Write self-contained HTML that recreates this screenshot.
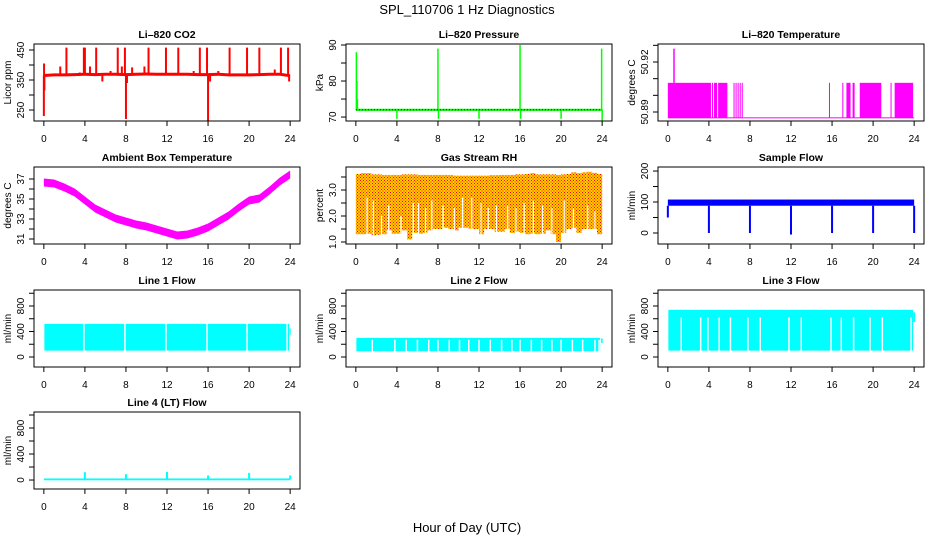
<!DOCTYPE html>
<html><head><meta charset="utf-8"><title>SPL_110706 1 Hz Diagnostics</title>
<style>
html,body{margin:0;padding:0;background:#fff;}
svg{display:block;font-family:"Liberation Sans",Arial,sans-serif;}
</style></head>
<body>
<svg id="chart" width="936" height="540" viewBox="0 0 936 540" xmlns="http://www.w3.org/2000/svg">
<defs>
<pattern id="rhpat" width="3" height="3" patternUnits="userSpaceOnUse">
<rect width="3" height="3" fill="#ffcc00"/><rect width="1" height="1" fill="#ff0000"/><rect x="1.5" y="1.5" width="1" height="1" fill="#ff0000"/>
</pattern>
</defs>
<text x="467" y="14" text-anchor="middle" font-size="13">SPL_110706  1 Hz Diagnostics</text>
<text x="467" y="532" text-anchor="middle" font-size="13">Hour of Day (UTC)</text>
</svg>
<script>
// ---- data ----
const xTicks = [0,4,8,12,16,20,24];
// CO2
const co2Hours = [0,1,2,3,4,5,6,7,8,9,10,11,12,13,14,15,16,17,18,19,20,21,22,23,24];
const co2Base = [366,368,368,369,370,369,370,370,369,370,371,370,370,370,370,369,369,370,368,368,368,369,370,370,365];
const co2SpikeHours = [0.0,0.05,0.02,1.6,2.2,3.5,3.9,4.0,4.5,5.1,5.7,6.5,7.2,7.6,7.9,8.0,8.1,8.6,9.8,10.2,11.9,13.1,14.6,15.2,15.9,16.0,16.2,17.0,18.1,19.8,21.0,22.5,23.1,23.8,23.9];
const co2SpikeVals = [230,315,405,395,458,375,458,458,395,458,345,380,458,395,458,220,340,392,395,458,458,458,380,458,458,213,345,380,458,458,458,385,458,458,345];
// Pressure
const presBase = 72.0;
const presSpikeHours = [0.05,0.1,0.15,4.0,8.0,8.05,12.0,16.0,16.05,20.0,23.95,24.0];
const presSpikeVals = [88,80,75,69.5,89,69.5,69.5,90,69.5,69.5,89,69];
// Li-820 temperature
const tempLow = 50.8865;
const tempHigh = 50.9075;
const tempBlockStart = [0.0,4.3,4.5,4.9,6.4,6.6,6.8,7.0,7.2,15.7,17.0,17.4,18.0,18.7,21.7,22.1];
const tempBlockEnd =   [4.2,4.4,4.8,5.8,6.5,6.7,6.9,7.1,7.3,15.8,17.1,17.8,18.2,20.8,21.8,23.9];
const tempSpikeHours = [0.6];
const tempSpikeVals = [50.928];
// Ambient box temperature
const ambHours = [0,1,2,3,4,5,6,7,8,9,10,11,12,13,14,15,16,17,18,19,20,21,22,23,24];
const ambTemp = [36.7,36.6,36.2,35.7,34.9,34.1,33.6,33.1,32.8,32.5,32.3,32.0,31.7,31.4,31.5,31.8,32.2,32.8,33.4,34.2,34.9,35.1,35.9,36.8,37.5];
// Gas stream RH (per half-hour bins)
const rhBinStart = [0,0.5,1,1.5,2,2.5,3,3.5,4,4.5,5,5.5,6,6.5,7,7.5,8,8.5,9,9.5,10,10.5,11,11.5,12,12.5,13,13.5,14,14.5,15,15.5,16,16.5,17,17.5,18,18.5,19,19.5,20,20.5,21,21.5,22,22.5,23,23.5];
const rhHigh = [3.62,3.65,3.65,3.6,3.6,3.58,3.58,3.58,3.58,3.6,3.6,3.6,3.58,3.58,3.58,3.58,3.58,3.58,3.58,3.55,3.55,3.55,3.55,3.55,3.55,3.55,3.57,3.57,3.58,3.58,3.58,3.6,3.6,3.62,3.65,3.6,3.6,3.6,3.6,3.58,3.6,3.62,3.68,3.65,3.68,3.7,3.66,3.62];
const rhLow = [1.3,1.3,1.32,1.25,1.28,1.3,1.45,1.32,1.32,1.45,1.1,1.35,1.32,1.35,1.45,1.5,1.5,1.55,1.5,1.45,1.55,1.55,1.5,1.5,1.3,1.5,1.5,1.4,1.4,1.5,1.35,1.4,1.35,1.3,1.32,1.3,1.32,1.45,1.3,1.0,1.35,1.5,1.55,1.35,1.5,1.5,1.5,1.3];
const rhGapHours = [1.1,1.7,2.5,3.2,4.4,5.6,6.1,6.8,7.4,8.5,9.6,10.4,11.3,12.2,12.9,13.7,14.8,15.6,16.4,17.3,18.2,19.1,20.3,21.2,22.6,23.3];
const rhGapTop = [2.7,2.6,2.0,2.4,2.0,2.5,2.5,2.3,2.6,2.4,2.3,2.7,2.7,2.5,2.3,2.4,2.4,2.3,2.5,2.6,2.4,2.3,2.6,2.3,2.4,2.2];
// Sample flow
const sfLow = 88;
const sfHigh = 108;
const sfDipHours = [0.0,4.0,8.0,12.0,16.0,20.0,24.0];
const sfDipVals = [50,0,0,-5,0,0,0];
// Line flows
const l1Low = 100, l1High = 520;
const l1Gaps = [3.9,7.9,11.9,15.9,19.8,23.7];
const l2Low = 90, l2High = 300;
const l2Gaps = [1.6,3.8,4.9,6.0,7.1,8.0,9.1,10.1,11.0,12.0,13.1,14.2,15.2,16.0,17.1,18.1,19.1,20.0,21.1,22.1,23.3,23.7];
const l3Low = 100, l3High = 740;
const l3Gaps = [1.3,3.2,3.9,5.0,6.1,7.8,9.0,11.8,13.0,15.9,16.9,18.1,19.7,20.9,23.7];
const l4Base = 10;
const l4SpikeHours = [4,8,12,16,20,24];
const l4SpikeVals = [120,90,125,70,110,70];

// ---- layout ----
const svg = document.getElementById('chart');
const NS = 'http://www.w3.org/2000/svg';
const colLeft = [34,346,658];
const rowTop = [44,167,290,412];
const W = 266, H = 77;
function mk(tag, attrs, parent){
  const e = document.createElementNS(NS, tag);
  for (const k in attrs) e.setAttribute(k, attrs[k]);
  (parent||svg).appendChild(e);
  return e;
}
function panel(name, col, row, title, ylab, dmin, dmax, yTicks, yLabels){
  const L = colLeft[col], T = rowTop[row];
  const g = mk('g', {});
  
  
  const xs = h => L + (h + 0.96) * W / 25.92;
  const ys = v => T + H - (v - dmin) / (dmax - dmin) * H;
  const plot = mk('g', {}, g);
  
  
  const box = mk('rect', {x:L, y:T, width:W, height:H, fill:'none', stroke:'#000', 'stroke-width':1}, g);
  
  
  const tt = mk('text', {x:L + W/2, y:T - 6, 'text-anchor':'middle', 'font-size':10.5, 'font-weight':'bold'}, g);
  tt.textContent = title;
  
  
  const yl = mk('text', {x:0, y:0, 'text-anchor':'middle', 'font-size':10, transform:'translate(' + (L - 23) + ',' + (T + H/2) + ') rotate(-90)'}, g);
  yl.textContent = ylab;
  
  
  const xa = mk('g', {}, g);
  
  
  mk('line', {x1:xs(0), x2:xs(24), y1:T+H, y2:T+H, stroke:'#000'}, xa);
  xTicks.forEach(t => {
    mk('line', {x1:xs(t), x2:xs(t), y1:T+H, y2:T+H+5, stroke:'#000'}, xa);
    const lt = mk('text', {x:xs(t), y:T+H+21, 'text-anchor':'middle', 'font-size':10}, xa);
    lt.textContent = t;
  });
  const ya = mk('g', {}, g);
  
  
  yTicks.forEach(t => {
    mk('line', {x1:L-5, x2:L, y1:ys(t), y2:ys(t), stroke:'#000'}, ya);
  });
  yLabels.forEach(lv => {
    const lt = mk('text', {x:0, y:0, 'text-anchor':'middle', 'font-size':10, transform:'translate(' + (L - 10) + ',' + ys(lv[0]) + ') rotate(-90)'}, ya);
    lt.textContent = lv[1];
  });
  return {xs, ys, plot};
}
function vline(p, h, v1, v2, color, w){
  return mk('line', {x1:p.xs(h), x2:p.xs(h), y1:p.ys(v1), y2:p.ys(v2), stroke:color, 'stroke-width':w||1.5}, p.plot);
}
function rect(p, h1, h2, v1, v2, fill){
  const x1 = p.xs(h1), x2 = p.xs(h2), y1 = p.ys(v2), y2 = p.ys(v1);
  return mk('rect', {x:x1, y:y1, width:Math.max(1, x2-x1), height:Math.max(1, y2-y1), fill:fill}, p.plot);
}
function band(p, hs, lo, hi, fill){
  const up = hs.map((h,i) => p.xs(h) + ',' + p.ys(hi[i]));
  const dn = hs.map((h,i) => p.xs(h) + ',' + p.ys(lo[i])).reverse();
  return mk('polygon', {points: up.concat(dn).join(' '), fill:fill}, p.plot);
}

// 1. CO2
let p = panel('co2', 0, 0, 'Li\u2013820 CO2', 'Licor ppm', 213.3, 470, [250,300,350,400,450], [[250,'250'],[350,'350'],[450,'450']]);
band(p, co2Hours, co2Base.map(v => v - 6), co2Base.map(v => v + 4), '#ff0000');
co2SpikeHours.forEach((h,i) => vline(p, h, co2Base[Math.round(h)], co2SpikeVals[i], '#ff0000', 2));

// 2. Pressure
p = panel('pressure', 1, 0, 'Li\u2013820 Pressure', 'kPa', 68.9, 90.28, [70,75,80,85,90], [[70,'70'],[80,'80'],[90,'90']]);
rect(p, 0, 24, presBase - 0.3, presBase + 0.3, '#00ff00');
presSpikeHours.forEach((h,i) => vline(p, h, presBase, presSpikeVals[i], '#00ff00', 1.5));
mk('line', {x1:p.xs(0), x2:p.xs(24), y1:p.ys(presBase), y2:p.ys(presBase), stroke:'#000', 'stroke-width':0.8, 'stroke-dasharray':'1,2'}, p.plot);

// 3. Li-820 temperature
p = panel('li820-temperature', 2, 0, 'Li\u2013820 Temperature', 'degrees C', 50.8846, 50.9308, [50.89,50.90,50.91,50.92,50.93], [[50.89,'50.89'],[50.92,'50.92']]);
rect(p, 0, 24, tempLow - 0.0003, tempLow + 0.0003, '#ff00ff');
tempBlockStart.forEach((s,i) => rect(p, s, tempBlockEnd[i], tempLow, tempHigh, '#ff00ff'));
tempSpikeHours.forEach((h,i) => vline(p, h, tempHigh, tempSpikeVals[i], '#ff00ff', 1.5));

// 4. Ambient box temperature
p = panel('ambient-temperature', 0, 1, 'Ambient Box Temperature', 'degrees C', 30.5, 38.2, [31,32,33,34,35,36,37], [[31,'31'],[33,'33'],[35,'35'],[37,'37']]);
band(p, ambHours, ambTemp.map(v => v - 0.45), ambTemp.map(v => v + 0.35), '#ff00ff');

// 5. Gas stream RH
p = panel('gas-stream-rh', 1, 1, 'Gas Stream RH', 'percent', 0.923, 3.885, [1.0,1.5,2.0,2.5,3.0,3.5], [[1.0,'1.0'],[2.0,'2.0'],[3.0,'3.0']]);
rhBinStart.forEach((s,i) => rect(p, s, s + 0.5, rhLow[i], rhHigh[i], 'url(#rhpat)'));
rhGapHours.forEach((h,i) => vline(p, h, 0.95, rhGapTop[i], '#ffffff', 1.2));

// 6. Sample flow
p = panel('sample-flow', 2, 1, 'Sample Flow', 'ml/min', -35.5, 213, [0,50,100,150,200], [[0,'0'],[100,'100'],[200,'200']]);
rect(p, 0, 24, sfLow, sfHigh, '#0000ff');
sfDipHours.forEach((h,i) => vline(p, h, sfLow, sfDipVals[i], '#0000ff', 2));

// 7-9. Line flows
const flowTicks = [0,200,400,600,800,1000];
const flowLabels = [[0,'0'],[400,'400'],[800,'800']];
p = panel('line1-flow', 0, 2, 'Line 1 Flow', 'ml/min', -157, 1051, flowTicks, flowLabels);
rect(p, 0.05, 23.9, l1Low, l1High, '#00ffff');
rect(p, 23.95, 24.05, 350, 450, '#00ffff');
l1Gaps.forEach(h => vline(p, h, l1Low - 5, l1High + 20, '#ffffff', 1.5));
p = panel('line2-flow', 1, 2, 'Line 2 Flow', 'ml/min', -157, 1051, flowTicks, flowLabels);
rect(p, 0.05, 23.8, l2Low, l2High, '#00ffff');
rect(p, 23.9, 24.05, 220, 290, '#00ffff');
l2Gaps.forEach(h => vline(p, h, l2Low - 5, l2High - 30, '#ffffff', 1.5));
p = panel('line3-flow', 2, 2, 'Line 3 Flow', 'ml/min', -157, 1051, flowTicks, flowLabels);
rect(p, 0.05, 23.9, l3Low, l3High, '#00ffff');
rect(p, 23.9, 24.1, 550, 700, '#00ffff');
l3Gaps.forEach(h => vline(p, h, l3Low - 5, l3High - 120, '#ffffff', 1.5));

// 10. Line 4 flow
p = panel('line4-flow', 0, 3, 'Line 4 (LT) Flow', 'ml/min', -138, 1046, flowTicks, flowLabels);
rect(p, 0, 24, l4Base - 14, l4Base + 14, '#00ffff');
l4SpikeHours.forEach((h,i) => vline(p, h, l4Base, l4SpikeVals[i], '#00ffff', 2));
</script>
</body></html>
